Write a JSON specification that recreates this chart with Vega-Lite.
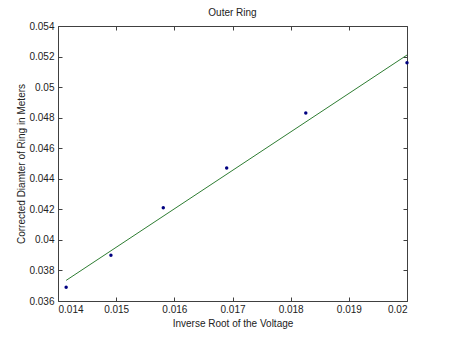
{
  "$schema": "https://vega.github.io/schema/vega-lite/v6.json",
  "autosize": "none",
  "width": 349,
  "height": 275,
  "padding": {"left": 58, "top": 26, "right": 43, "bottom": 37},
  "background": "white",
  "config": {
    "view": {"stroke": null},
    "font": "Liberation Sans",
    "axis": {
      "grid": false,
      "domainColor": "#404040",
      "tickColor": "#404040",
      "tickSize": -4,
      "labelColor": "#222222",
      "labelFont": "Liberation Sans",
      "labelFontSize": 10,
      "titleFont": "Liberation Sans",
      "titleFontSize": 10,
      "titleFontWeight": "normal",
      "titleColor": "#222222"
    },
    "title": {"font": "Liberation Sans", "fontSize": 10, "fontWeight": "normal", "color": "#222222"}
  },
  "title": {"text": "Outer Ring", "offset": 3},
  "datasets": {
    "points": [
      {"x": 0.01414, "y": 0.0369},
      {"x": 0.01491, "y": 0.0390},
      {"x": 0.01581, "y": 0.0421},
      {"x": 0.01690, "y": 0.0447},
      {"x": 0.01826, "y": 0.0483},
      {"x": 0.02000, "y": 0.0516}
    ],
    "fit": [
      {"x": 0.01414, "y": 0.03735},
      {"x": 0.02000, "y": 0.0521}
    ]
  },
  "layer": [
    {
      "data": {"name": "fit"},
      "mark": {"type": "line", "color": "#2e7d32", "strokeWidth": 1},
      "encoding": {
        "x": {"field": "x", "type": "quantitative", "scale": {"domain": [0.014, 0.02], "nice": false, "zero": false},
              "axis": {"orient": "top", "labels": false, "title": null, "values": [0.014, 0.015, 0.016, 0.017, 0.018, 0.019, 0.02]}},
        "y": {"field": "y", "type": "quantitative", "scale": {"domain": [0.036, 0.054], "nice": false, "zero": false},
              "axis": {"orient": "right", "labels": false, "title": null, "values": [0.036, 0.038, 0.04, 0.042, 0.044, 0.046, 0.048, 0.05, 0.052, 0.054]}}
      }
    },
    {
      "data": {"name": "points"},
      "mark": {"type": "point", "filled": true, "color": "#000080", "size": 12, "opacity": 1},
      "encoding": {
        "x": {"field": "x", "type": "quantitative", "scale": {"domain": [0.014, 0.02], "nice": false, "zero": false},
              "axis": {"orient": "bottom", "title": "Inverse Root of the Voltage", "format": ".3~f", "labelPadding": 7, "titlePadding": 4,
                       "values": [0.014, 0.015, 0.016, 0.017, 0.018, 0.019, 0.02]}},
        "y": {"field": "y", "type": "quantitative", "scale": {"domain": [0.036, 0.054], "nice": false, "zero": false},
              "axis": {"orient": "left", "title": "Corrected Diamter of Ring in Meters", "format": ".3~f", "labelPadding": 8, "titlePadding": 2,
                       "values": [0.036, 0.038, 0.04, 0.042, 0.044, 0.046, 0.048, 0.05, 0.052, 0.054]}}
      }
    }
  ],
  "resolve": {"axis": {"x": "independent", "y": "independent"}}
}
